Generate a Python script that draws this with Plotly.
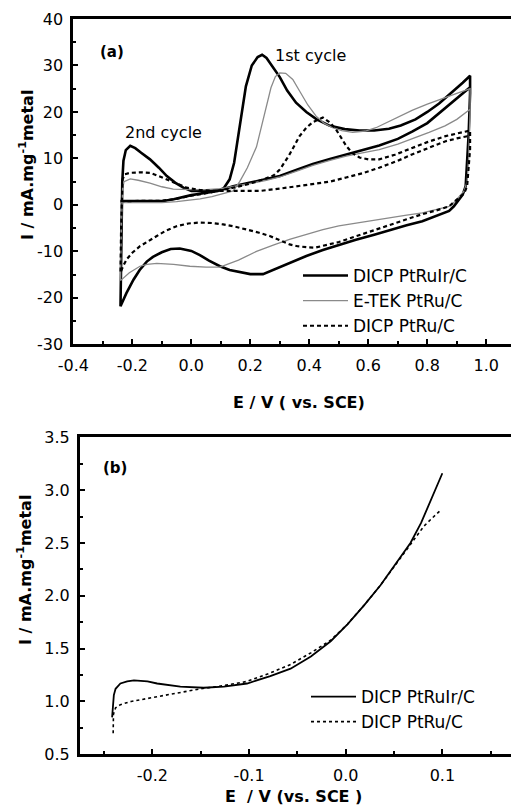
import plotly.graph_objects as go

# ---------------- Panel (a): cyclic voltammograms ----------------
# DICP PtRuIr/C (black solid)
ptruir_e = [-0.24, -0.2, -0.15, -0.1, -0.06, -0.03, 0.0, 0.03, 0.06, 0.09, 0.11, 0.13, 0.145, 0.165, 0.185, 0.205, 0.225, 0.24, 0.255, 0.275, 0.3, 0.325, 0.355, 0.39, 0.425, 0.47, 0.52, 0.57, 0.62, 0.67, 0.71, 0.76, 0.8, 0.84, 0.88, 0.92, 0.945,
            0.945, 0.94, 0.935, 0.93, 0.92, 0.907, 0.89, 0.874, 0.83, 0.783, 0.73, 0.671, 0.62, 0.558, 0.5, 0.446, 0.39, 0.333, 0.29, 0.243, 0.2, 0.164, 0.13, 0.097, 0.06, 0.029, 0.0, -0.039, -0.07, -0.1, -0.13, -0.151, -0.175, -0.196, -0.22, -0.24,
            -0.238, -0.236, -0.234, -0.23, -0.222, -0.207, -0.19, -0.17, -0.14, -0.11, -0.083, -0.055, -0.027, 0.0, 0.05, 0.1, 0.142, 0.2, 0.254, 0.3, 0.36, 0.412, 0.47, 0.525, 0.58, 0.637, 0.7, 0.75, 0.8, 0.84, 0.89, 0.945]
ptruir_i = [0.8, 0.8, 0.8, 0.8, 1.2, 1.7, 2.1, 2.4, 2.7, 3.0, 3.6, 5.5, 9.0, 17.5, 25.5, 30.0, 31.8, 32.3, 31.6, 29.8, 27.5, 24.6, 22.0, 20.0, 18.4, 17.0, 16.3, 16.0, 16.0, 16.4, 17.1, 18.4, 20.0, 21.8, 24.0, 26.3, 27.8,
            24.0, 15.0, 8.0, 4.0, 2.2, 1.0, -0.3, -1.3, -2.4, -3.5, -4.4, -5.4, -6.4, -7.5, -8.6, -9.7, -11.0, -12.5, -13.8, -14.9, -14.9, -14.5, -14.0, -13.2, -12.0, -10.8, -9.9, -9.4, -9.5, -10.2, -11.2, -12.2, -14.0, -16.1, -19.0, -21.8,
            -10.0, 0.0, 5.0, 9.5, 11.8, 12.7, 12.2, 11.2, 9.8, 8.0, 6.2, 4.8, 3.7, 3.0, 3.0, 3.2, 4.0, 4.8, 5.6, 6.2, 7.6, 8.8, 9.9, 10.9, 11.8, 12.8, 14.2, 15.8, 17.6, 19.7, 22.3, 25.3]

# E-TEK PtRu/C (grey solid)
etek_e = [-0.24, -0.2, -0.15, -0.1, -0.05, 0.0, 0.03, 0.07, 0.11, 0.142, 0.164, 0.19, 0.221, 0.24, 0.254, 0.27, 0.285, 0.3, 0.32, 0.344, 0.367, 0.395, 0.423, 0.45, 0.479, 0.51, 0.547, 0.59, 0.626, 0.68, 0.75, 0.8, 0.862, 0.9, 0.945,
          0.945, 0.94, 0.935, 0.925, 0.907, 0.89, 0.874, 0.83, 0.783, 0.73, 0.671, 0.62, 0.558, 0.5, 0.446, 0.4, 0.333, 0.28, 0.221, 0.16, 0.097, 0.05, -0.005, -0.06, -0.117, -0.15, -0.174, -0.21, -0.24,
          -0.238, -0.236, -0.233, -0.228, -0.207, -0.18, -0.14, -0.1, -0.061, 0.0, 0.05, 0.1, 0.15, 0.2, 0.254, 0.3, 0.36, 0.412, 0.47, 0.525, 0.58, 0.637, 0.7, 0.75, 0.806, 0.86, 0.9, 0.945]
etek_i = [0.5, 0.5, 0.5, 0.5, 0.7, 1.0, 1.3, 1.8, 2.4, 3.0, 5.0, 8.0, 12.5, 17.5, 21.5, 25.2, 27.6, 28.4, 28.3, 27.0, 24.5, 21.5, 19.1, 17.6, 16.6, 16.0, 15.6, 15.9, 16.6, 18.2, 20.4, 21.7, 23.2, 24.0, 25.0,
          20.0, 10.0, 5.0, 3.0, 1.8, 0.5, -0.3, -1.0, -1.7, -2.2, -2.8, -3.3, -3.8, -4.5, -5.3, -6.1, -7.4, -8.6, -10.0, -11.9, -13.4, -13.4, -13.2, -12.8, -12.6, -12.8, -13.2, -14.6, -16.3,
          -8.0, 0.0, 3.5, 5.0, 5.6, 5.3, 4.7, 3.9, 3.4, 3.3, 3.3, 3.5, 4.0, 4.6, 5.3, 6.0, 7.3, 8.5, 9.6, 10.5, 11.2, 11.9, 13.1, 14.2, 15.6, 17.0, 18.4, 20.6]

# DICP PtRu/C (black dashed)
ptru_e = [-0.24, -0.2, -0.15, -0.1, -0.05, 0.0, 0.05, 0.1, 0.15, 0.2, 0.25, 0.28, 0.3, 0.33, 0.367, 0.39, 0.412, 0.446, 0.47, 0.49, 0.51, 0.525, 0.545, 0.57, 0.6, 0.637, 0.69, 0.75, 0.8, 0.862, 0.9, 0.945,
          0.945, 0.94, 0.935, 0.925, 0.907, 0.89, 0.874, 0.83, 0.783, 0.73, 0.671, 0.62, 0.558, 0.5, 0.446, 0.42, 0.39, 0.36, 0.333, 0.3, 0.266, 0.23, 0.187, 0.15, 0.108, 0.07, 0.029, -0.01, -0.05, -0.085, -0.117, -0.145, -0.174, -0.2, -0.219, -0.232, -0.24,
          -0.238, -0.236, -0.233, -0.225, -0.207, -0.17, -0.14, -0.11, -0.083, -0.05, -0.016, 0.03, 0.085, 0.15, 0.232, 0.3, 0.36, 0.412, 0.47, 0.525, 0.58, 0.637, 0.7, 0.75, 0.8, 0.862, 0.9, 0.945]
ptru_i = [0.8, 0.8, 0.8, 0.9, 1.3, 2.0, 2.5, 3.1, 3.8, 4.6, 5.6, 6.4, 7.6, 10.5, 14.8, 16.6, 17.8, 18.8, 17.7, 16.3, 14.4, 12.7, 11.2, 10.2, 9.8, 9.8, 10.8, 12.3, 13.5, 14.8, 15.4, 16.0,
          12.0, 7.0, 4.0, 2.5, 1.5, 0.6, -0.3, -1.2, -2.0, -3.1, -4.4, -5.5, -6.8, -8.0, -8.8, -9.2, -9.1, -8.9, -8.5, -7.6, -6.7, -6.0, -5.3, -4.7, -4.2, -3.9, -3.8, -4.0, -4.6, -5.5, -6.7, -7.8, -8.9, -10.3, -11.7, -13.3, -14.6,
          -5.0, 2.0, 5.5, 6.6, 6.9, 7.0, 6.9, 6.2, 5.5, 4.5, 3.7, 3.2, 3.0, 3.0, 3.0, 3.5, 4.0, 4.4, 5.0, 5.9, 6.8, 8.0, 9.5, 10.9, 12.2, 13.7, 14.3, 14.9]

# ---------------- Panel (b): linear sweeps ----------------
b_ptruir_e = [-0.2416, -0.2405, -0.2398, -0.238, -0.233, -0.226, -0.219, -0.205, -0.195, -0.171, -0.147, -0.126, -0.102, -0.078, -0.057, -0.036, -0.0155, 0.0018, 0.019, 0.036, 0.0535, 0.067, 0.078, 0.088, 0.1]
b_ptruir_i = [0.85, 0.95, 1.06, 1.12, 1.17, 1.19, 1.2, 1.19, 1.17, 1.14, 1.13, 1.14, 1.17, 1.24, 1.31, 1.425, 1.57, 1.73, 1.91, 2.10, 2.32, 2.50, 2.69, 2.91, 3.16]
b_ptru_e = [-0.2405, -0.2402, -0.238, -0.233, -0.222, -0.205, -0.185, -0.164, -0.15, -0.126, -0.102, -0.078, -0.057, -0.036, -0.0155, 0.0018, 0.019, 0.036, 0.0535, 0.067, 0.075, 0.081, 0.09, 0.097]
b_ptru_i = [0.70, 0.88, 0.94, 0.97, 1.0, 1.03, 1.06, 1.10, 1.12, 1.15, 1.19, 1.27, 1.35, 1.46, 1.58, 1.73, 1.91, 2.10, 2.32, 2.48, 2.58, 2.66, 2.74, 2.80]

# tick labels
a_xticks = [-0.4, -0.2, 0.0, 0.2, 0.4, 0.6, 0.8, 1.0]
a_xtext = ["-0.4", "-0.2", "0.0", "0.2", "0.4", "0.6", "0.8", "1.0"]
a_yticks = [-30, -20, -10, 0, 10, 20, 30, 40]
a_ytext = ["-30", "-20", "-10", "0", "10", "20", "30", "40"]
b_xticks = [-0.2, -0.1, 0.0, 0.1]
b_xtext = ["-0.2", "-0.1", "0.0", "0.1"]
b_yticks = [0.5, 1.0, 1.5, 2.0, 2.5, 3.0, 3.5]
b_ytext = ["0.5", "1.0", "1.5", "2.0", "2.5", "3.0", "3.5"]

W, H = 511, 805
FONT = "DejaVu Sans"

fig = go.Figure()
fig.add_trace(go.Scatter(x=ptruir_e, y=ptruir_i, mode="lines", name="DICP PtRuIr/C",
                         line=dict(color="black", width=2.6), xaxis="x", yaxis="y", legend="legend"))
fig.add_trace(go.Scatter(x=etek_e, y=etek_i, mode="lines", name="E-TEK PtRu/C",
                         line=dict(color="#8a8a8a", width=1.3), xaxis="x", yaxis="y", legend="legend"))
fig.add_trace(go.Scatter(x=ptru_e, y=ptru_i, mode="lines", name="DICP PtRu/C",
                         line=dict(color="black", width=2.2, dash="4px,3px"), xaxis="x", yaxis="y", legend="legend"))
fig.add_trace(go.Scatter(x=b_ptruir_e, y=b_ptruir_i, mode="lines", name="DICP PtRuIr/C",
                         line=dict(color="black", width=1.8), xaxis="x2", yaxis="y2", legend="legend2"))
fig.add_trace(go.Scatter(x=b_ptru_e, y=b_ptru_i, mode="lines", name="DICP PtRu/C",
                         line=dict(color="black", width=1.6, dash="3px,3px"), xaxis="x2", yaxis="y2", legend="legend2"))

def px_x(p):
    return p / W

def px_y(p):
    return 1 - p / H

axis_common = dict(showline=True, linewidth=3, linecolor="black", ticks="inside", ticklen=5,
                   tickwidth=2, tickcolor="black", showgrid=False, zeroline=False,
                   tickfont=dict(family=FONT, size=16, color="black"), automargin=False)

fig.update_layout(
    width=W, height=H, margin=dict(l=0, r=0, t=0, b=0),
    paper_bgcolor="white", plot_bgcolor="white",
    xaxis=dict(domain=[px_x(73.3), 1], range=[-0.4, 1.0837], tickmode="array", tickvals=a_xticks, ticktext=a_xtext,
               mirror=True, anchor="y", ticklabelstandoff=4,
               minor=dict(tickmode="linear", tick0=0, dtick=0.1, ticks="inside", ticklen=3, tickwidth=2, tickcolor="black"),
               **axis_common),
    yaxis=dict(domain=[px_y(344.3), px_y(19)], range=[-30, 40], tickmode="array", tickvals=a_yticks, ticktext=a_ytext,
               anchor="x", ticklabelstandoff=4,
               minor=dict(tickmode="linear", tick0=0, dtick=5, ticks="inside", ticklen=3, tickwidth=2, tickcolor="black"),
               **axis_common),
    xaxis2=dict(domain=[px_x(80), 1], range=[-0.2748, 0.171], tickmode="array", tickvals=b_xticks, ticktext=b_xtext,
                mirror=True, anchor="y2", ticklabelstandoff=4,
                minor=dict(tickmode="linear", tick0=0, dtick=0.05, ticks="inside", ticklen=3, tickwidth=2, tickcolor="black"),
                **axis_common),
    yaxis2=dict(domain=[px_y(754.3), px_y(437.3)], range=[0.5, 3.5], tickmode="array", tickvals=b_yticks, ticktext=b_ytext,
                anchor="x2", ticklabelstandoff=4,
                minor=dict(tickmode="linear", tick0=0, dtick=0.25, ticks="inside", ticklen=3, tickwidth=2, tickcolor="black"),
                **axis_common),
    legend=dict(x=px_x(298), y=px_y(258), xanchor="left", yanchor="top", bgcolor="rgba(0,0,0,0)",
                font=dict(family=FONT, size=17, color="black"), itemwidth=45, tracegroupgap=0),
    legend2=dict(x=px_x(306), y=px_y(679), xanchor="left", yanchor="top", bgcolor="rgba(0,0,0,0)",
                 font=dict(family=FONT, size=17, color="black"), itemwidth=45, tracegroupgap=0),
    showlegend=True,
)

ann_font = dict(family=FONT, size=16, color="black")
annotations = [
    dict(text="<b>(a)</b>", x=px_x(112), y=px_y(52), font=dict(family=FONT, size=15, color="black")),
    dict(text="1st cycle", x=px_x(310), y=px_y(55), font=ann_font),
    dict(text="2nd cycle", x=px_x(163), y=px_y(132), font=ann_font),
    dict(text="<b>(b)</b>", x=px_x(115), y=px_y(468), font=dict(family=FONT, size=15, color="black")),
    dict(text="<b>E / V ( vs. SCE)</b>", x=px_x(299), y=px_y(402), font=ann_font),
    dict(text="<b>E  / V (vs. SCE )</b>", x=px_x(293), y=px_y(796), font=ann_font),
    dict(text="<b>I / mA.mg<sup>-1</sup>metal</b>", x=px_x(26), y=px_y(165), textangle=-90, font=ann_font),
    dict(text="<b>I / mA.mg<sup>-1</sup>metal</b>", x=px_x(24), y=px_y(570), textangle=-90, font=ann_font),
]
for a in annotations:
    a.update(xref="paper", yref="paper", showarrow=False, xanchor="center", yanchor="middle")
fig.update_layout(annotations=annotations)

fig.write_html("out.html", config={"displayModeBar": False},
               post_script="document.body.style.margin='0';document.body.style.overflow='hidden';")
